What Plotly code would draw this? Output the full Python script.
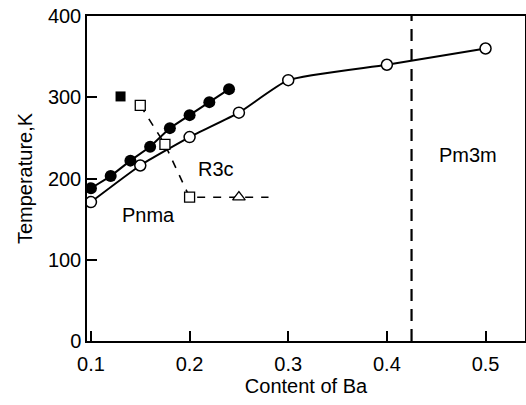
import plotly.graph_objects as go

# Data
ba_filled = [0.10, 0.12, 0.14, 0.16, 0.18, 0.20, 0.22, 0.24]
t_filled = [188, 203, 222, 239, 262, 278, 294, 310]

ba_open = [0.10, 0.15, 0.20, 0.25, 0.30, 0.40, 0.50]
t_open = [171, 216, 251, 281, 321, 340, 360]

ba_sq = [0.15, 0.175, 0.20]
t_sq = [290, 242, 177]

ba_tri = [0.25]
t_tri = [177]

ba_dash = [0.15, 0.175, 0.20, 0.25, 0.28]
t_dash = [290, 242, 177, 177, 177]

ba_fsq = [0.13]
t_fsq = [301]

boundary_ba = 0.425

phase_labels = ["R3c", "Pnma", "Pm3m"]
phase_x = [0.227, 0.158, 0.482]
phase_y = [212, 155, 229]

FONT = "Liberation Sans, Arial, sans-serif"

fig = go.Figure()

# dashed line through open squares and triangle
fig.add_trace(go.Scatter(x=ba_dash, y=t_dash, mode="lines",
                         line=dict(color="black", width=1.6, dash="8px,8px"),
                         showlegend=False))
# open circles with smooth line
fig.add_trace(go.Scatter(x=ba_open, y=t_open, mode="lines",
                         line=dict(color="black", width=2, shape="spline", smoothing=0.5),
                         showlegend=False))
fig.add_trace(go.Scatter(x=ba_open, y=t_open, mode="markers",
                         marker=dict(symbol="circle", size=11, color="white",
                                     line=dict(color="black", width=1.5)),
                         showlegend=False))
# filled circles
fig.add_trace(go.Scatter(x=ba_filled, y=t_filled, mode="lines+markers",
                         line=dict(color="black", width=2),
                         marker=dict(symbol="circle", size=12, color="black"),
                         showlegend=False))
# open squares
fig.add_trace(go.Scatter(x=ba_sq, y=t_sq, mode="markers",
                         marker=dict(symbol="square", size=10, color="white",
                                     line=dict(color="black", width=1.3)),
                         showlegend=False))
# open triangle
fig.add_trace(go.Scatter(x=ba_tri, y=t_tri, mode="markers",
                         marker=dict(symbol="triangle-up", size=11, color="white",
                                     line=dict(color="black", width=1.3)),
                         showlegend=False))
# filled square
fig.add_trace(go.Scatter(x=ba_fsq, y=t_fsq, mode="markers",
                         marker=dict(symbol="square", size=10, color="black"),
                         showlegend=False))

# vertical boundary
fig.add_shape(type="line", x0=boundary_ba, x1=boundary_ba, y0=0, y1=1,
              xref="x", yref="paper",
              line=dict(color="black", width=2.2, dash="12px,8px"))

for lab, x, y in zip(phase_labels, phase_x, phase_y):
    fig.add_annotation(x=x, y=y, text=lab, showarrow=False,
                       font=dict(family=FONT, size=20, color="black"))

fig.update_layout(
    width=526, height=405,
    margin=dict(l=87, r=1, t=16, b=64, autoexpand=False),
    paper_bgcolor="white", plot_bgcolor="white",
    font=dict(family=FONT, size=20, color="black"),
)
fig.update_xaxes(range=[0.096, 0.54], tickvals=[0.1, 0.2, 0.3, 0.4, 0.5],
                 ticktext=["0.1", "0.2", "0.3", "0.4", "0.5"],
                 ticks="inside", ticklen=10, tickwidth=1.5, tickcolor="black",
                 tickfont=dict(size=20), ticklabelstandoff=4,
                 showline=True, linecolor="black", linewidth=1.5, mirror=True,
                 showgrid=False, zeroline=False,
                 title=dict(text="Content of Ba", standoff=4, font=dict(size=20)))
fig.update_yaxes(range=[0, 400], tickvals=[0, 100, 200, 300, 400],
                 ticks="inside", ticklen=10, tickwidth=1.5, tickcolor="black",
                 tickfont=dict(size=20),
                 showline=True, linecolor="black", linewidth=1.5, mirror=True,
                 showgrid=False, zeroline=False,
                 title=dict(text="Temperature,K", standoff=10, font=dict(size=20)))

fig.write_html("out.html", config={"displayModeBar": False},
               post_script="document.body.style.margin='0';")
